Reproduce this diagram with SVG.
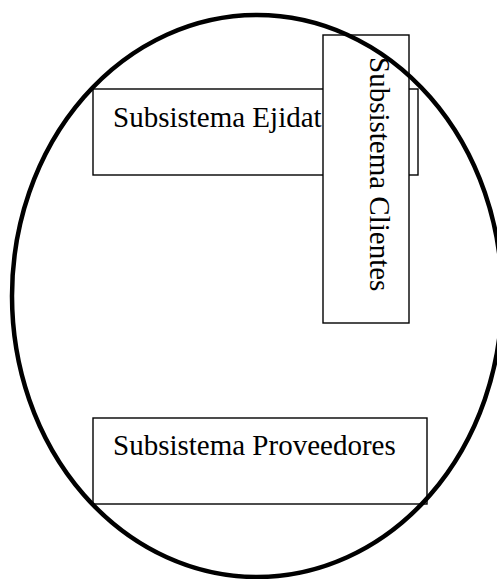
<svg xmlns="http://www.w3.org/2000/svg" width="497" height="579" viewBox="0 0 497 579">
<style>
.box{fill:#fff;stroke:#000;stroke-width:1.4}
.lbl{font-family:"Liberation Serif","Times New Roman",serif;font-size:29px;fill:#000}
.sys{fill:none;stroke:#000;stroke-width:4.5}
</style>
<rect width="497" height="579" fill="#fff"/>
<g id="ejidat">
<rect class="box" x="93" y="89" width="325" height="86"/>
<text class="lbl" x="113" y="127">Subsistema Ejidat</text>
</g>
<g id="clientes">
<rect class="box" x="323" y="35" width="86" height="288"/>
<text class="lbl" transform="translate(370,57) rotate(90)">Subsistema Clientes</text>
</g>
<g id="proveedores">
<rect class="box" x="93" y="418" width="334" height="86"/>
<text class="lbl" x="113" y="455">Subsistema Proveedores</text>
</g>
<g id="sistema">
<ellipse class="sys" cx="257" cy="296" rx="245" ry="281"/>
</g>
<g id="connectors"/>
</svg>
